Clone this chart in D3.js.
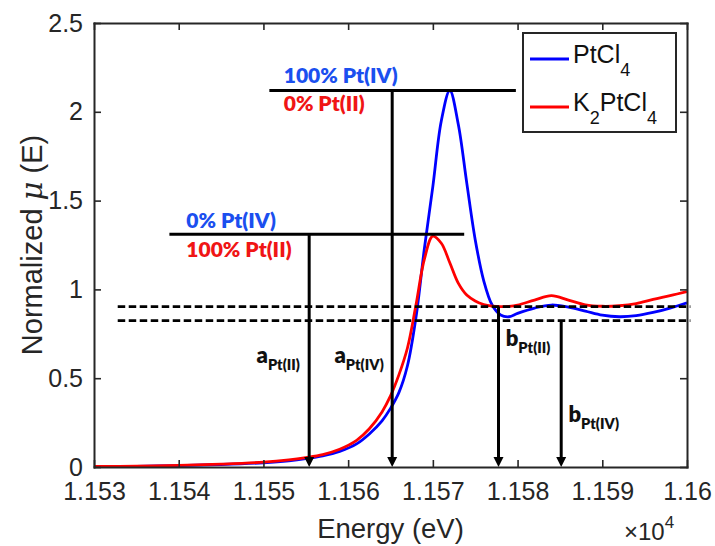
<!DOCTYPE html>
<html>
<head>
<meta charset="utf-8">
<script src="https://cdn.jsdelivr.net/npm/d3@7"></script>
<style>
  body { margin: 0; background: #fff; }
  svg { display: block; }
</style>
</head>
<body>
<svg id="chart" width="715" height="546"></svg>
<script>
// Pt L3-edge XANES, normalized absorption vs photon energy (eV)
const energy = [
  11530, 11535, 11540, 11545, 11550, 11553, 11555, 11557, 11559, 11561,
  11562.5, 11564, 11565, 11566, 11567, 11568, 11569, 11570, 11571, 11572,
  11573, 11574, 11575, 11576, 11577, 11578, 11579, 11580, 11582, 11584,
  11586, 11588, 11590, 11592, 11594, 11596, 11598, 11600
];
const muPtCl4 = [
  0.002, 0.004, 0.008, 0.014, 0.024, 0.035, 0.047, 0.063, 0.088, 0.13,
  0.186, 0.26, 0.33, 0.42, 0.57, 0.84, 1.23, 1.58, 1.95, 2.12,
  1.93, 1.60, 1.28, 1.05, 0.912, 0.856, 0.846, 0.865, 0.895, 0.912,
  0.90, 0.878, 0.855, 0.846, 0.852, 0.87, 0.895, 0.925
];
const muK2PtCl4 = [
  0.003, 0.005, 0.009, 0.016, 0.027, 0.040, 0.053, 0.070, 0.100, 0.150,
  0.215, 0.31, 0.40, 0.52, 0.67, 0.91, 1.17, 1.30, 1.26, 1.15,
  1.035, 0.968, 0.935, 0.915, 0.906, 0.903, 0.905, 0.912, 0.940, 0.965,
  0.94, 0.913, 0.905, 0.908, 0.92, 0.944, 0.965, 0.988
];
const seriesNames = ["PtCl4", "K2PtCl4"];
const xTicks = [11530, 11540, 11550, 11560, 11570, 11580, 11590, 11600];
const yTicks = [0, 0.5, 1, 1.5, 2, 2.5];

// white-line heights of the two references
const levelLines = [
  { mu: 2.12, e0: 11550.7, e1: 11579.8 },
  { mu: 1.31, e0: 11538.9, e1: 11573.7 }
];
const levelTexts = [
  { text: "100% Pt(IV)", e: 11552.4, mu: 2.162, kind: "iv" },
  { text: "0% Pt(II)",   e: 11552.4, mu: 2.005, kind: "ii" },
  { text: "0% Pt(IV)",   e: 11540.9, mu: 1.347, kind: "iv" },
  { text: "100% Pt(II)", e: 11540.9, mu: 1.183, kind: "ii" }
];
// post-edge reference levels
const dashedLevels = [0.903, 0.824];
const dashedRange = [11532.8, 11600.4];
// energy markers
const markers = [
  { e: 11555.4,  from: 1.31,  main: "a", sub: "Pt(II)", te: 11554.3, tmu: 0.586, side: "left" },
  { e: 11565.2,  from: 2.12,  main: "a", sub: "Pt(IV)", te: 11564.2, tmu: 0.586, side: "left" },
  { e: 11577.75, from: 0.903, main: "b", sub: "Pt(II)", te: 11578.6, tmu: 0.681, side: "right" },
  { e: 11585.15, from: 0.824, main: "b", sub: "Pt(IV)", te: 11586.0, tmu: 0.253, side: "right" }
];

const svg = d3.select("#chart");
const W = 715, H = 546;
const m = { left: 94, right: 28, top: 23, bottom: 79 };
const x = d3.scaleLinear().domain([11530, 11600]).range([m.left, W - m.right]);
const y = d3.scaleLinear().domain([0, 2.5]).range([H - m.bottom, m.top]);

const axisColor = "#262626";
const tickFont = "'Liberation Sans', Arial, Helvetica, sans-serif";
const noteFont = "Lato, 'Open Sans', sans-serif";
const blueText = "#1b4fef";
const redText = "#f01515";

svg.append("rect").attr("width", W).attr("height", H).attr("fill", "#fff");

svg.append("defs").append("clipPath").attr("id", "plotClip")
  .append("rect")
  .attr("x", m.left).attr("y", m.top)
  .attr("width", W - m.left - m.right).attr("height", H - m.top - m.bottom);

// curves
const line = d3.line()
  .x((d, i) => x(energy[i]))
  .y(d => y(d))
  .curve(d3.curveCatmullRom.alpha(0.5));

const curves = svg.append("g").attr("clip-path", "url(#plotClip)");
curves.append("path").datum(muPtCl4)
  .attr("d", line).attr("fill", "none")
  .attr("stroke", "#0000ff").attr("stroke-width", 2.8);
curves.append("path").datum(muK2PtCl4)
  .attr("d", line).attr("fill", "none")
  .attr("stroke", "#ff0000").attr("stroke-width", 2.8);

// dashed post-edge levels
svg.append("g").selectAll("line").data(dashedLevels).join("line")
  .attr("x1", x(dashedRange[0])).attr("x2", x(dashedRange[1]))
  .attr("y1", d => y(d)).attr("y2", d => y(d))
  .attr("stroke", "#000").attr("stroke-width", 2.6)
  .attr("stroke-dasharray", "7.5,3.5");

// white-line height guides
svg.append("g").selectAll("line").data(levelLines).join("line")
  .attr("x1", d => x(d.e0)).attr("x2", d => x(d.e1))
  .attr("y1", d => y(d.mu)).attr("y2", d => y(d.mu))
  .attr("stroke", "#000").attr("stroke-width", 3);

svg.append("g").selectAll("text").data(levelTexts).join("text")
  .attr("x", d => x(d.e)).attr("y", d => y(d.mu))
  .attr("font-family", noteFont).attr("font-weight", 800)
  .attr("font-size", 21)
  .attr("fill", d => d.kind === "iv" ? blueText : redText)
  .text(d => d.text);

// arrows down to the energy axis
const arrowG = svg.append("g");
const headH = 10, headW = 5;
arrowG.selectAll("line").data(markers).join("line")
  .attr("x1", d => x(d.e)).attr("x2", d => x(d.e))
  .attr("y1", d => y(d.from)).attr("y2", d => y(0) - headH + 1)
  .attr("stroke", "#000").attr("stroke-width", 3);
arrowG.selectAll("path").data(markers).join("path")
  .attr("d", d => {
    const cx = x(d.e), ty = y(0);
    return `M${cx - headW},${ty - headH}L${cx + headW},${ty - headH}L${cx},${ty}Z`;
  })
  .attr("fill", "#000");

const mLabels = svg.append("g").selectAll("text").data(markers).join("text")
  .attr("x", d => x(d.te)).attr("y", d => y(d.tmu))
  .attr("text-anchor", d => d.side === "left" ? "end" : "start")
  .attr("font-family", noteFont).attr("font-weight", 800)
  .attr("fill", "#111");
mLabels.append("tspan").attr("font-size", 22).text(d => d.main);
mLabels.append("tspan").attr("font-size", 14.5).attr("dy", 7).text(d => d.sub);

// axes (box with inward ticks)
function styleAxis(g) {
  g.selectAll("path.domain").attr("stroke", axisColor).attr("stroke-width", 2);
  g.selectAll(".tick line").attr("stroke", axisColor).attr("stroke-width", 1.6);
  g.selectAll(".tick text").attr("fill", axisColor)
    .attr("font-family", tickFont).attr("font-size", 25);
}
const fmtX = d => String(+(d / 1e4).toFixed(3));
svg.append("g").attr("transform", `translate(0,${y(0)})`)
  .call(d3.axisBottom(x).tickValues(xTicks).tickFormat(fmtX).tickSizeInner(-7).tickSizeOuter(0).tickPadding(15))
  .call(styleAxis);
svg.append("g").attr("transform", `translate(0,${y(2.5)})`)
  .call(d3.axisTop(x).tickValues(xTicks).tickFormat("").tickSizeInner(-7).tickSizeOuter(0))
  .call(styleAxis);
svg.append("g").attr("transform", `translate(${x(11530)},0)`)
  .call(d3.axisLeft(y).tickValues(yTicks).tickFormat(d3.format("~g")).tickSizeInner(-7).tickSizeOuter(0).tickPadding(11))
  .call(styleAxis);
svg.append("g").attr("transform", `translate(${x(11600)},0)`)
  .call(d3.axisRight(y).tickValues(yTicks).tickFormat("").tickSizeInner(-7).tickSizeOuter(0))
  .call(styleAxis);
svg.selectAll(".domain").attr("stroke-linecap", "square");

// axis titles
svg.append("text")
  .attr("x", (x(11530) + x(11600)) / 2).attr("y", 538)
  .attr("text-anchor", "middle")
  .attr("font-family", tickFont).attr("font-size", 27.5).attr("fill", axisColor)
  .text("Energy (eV)");

const yl = svg.append("text")
  .attr("transform", `translate(42,${(y(0) + y(2.5)) / 2}) rotate(-90)`)
  .attr("text-anchor", "middle")
  .attr("font-family", tickFont).attr("font-size", 29).attr("fill", axisColor);
yl.append("tspan").text("Normalized ");
yl.append("tspan").attr("font-family", "'DejaVu Serif', serif").attr("font-style", "italic").text("μ");
yl.append("tspan").text(" (E)");

const mult = svg.append("text")
  .attr("x", 624).attr("y", 540)
  .attr("font-family", tickFont).attr("font-size", 24).attr("fill", axisColor);
mult.append("tspan").text("×10");
mult.append("tspan").attr("font-size", 17).attr("dy", -12).text("4");

// legend
const lg = svg.append("g");
lg.append("rect")
  .attr("x", 523).attr("y", 33).attr("width", 153).attr("height", 99)
  .attr("fill", "#fff").attr("stroke", axisColor).attr("stroke-width", 2);
const legendItems = [
  { name: seriesNames[0], color: "#0000ff", parts: [["PtCl", 0], ["4", 1]] },
  { name: seriesNames[1], color: "#ff0000", parts: [["K", 0], ["2", 1], ["PtCl", 0], ["4", 1]] }
];
legendItems.forEach((it, i) => {
  const cy = 59 + i * 48;
  lg.append("line").attr("x1", 530).attr("x2", 569).attr("y1", cy).attr("y2", cy)
    .attr("stroke", it.color).attr("stroke-width", 2.8);
  const t = lg.append("text").attr("x", 573).attr("y", cy + 4)
    .attr("font-family", tickFont).attr("font-size", 25).attr("fill", "#111");
  let sub = false;
  it.parts.forEach(([s, isSub]) => {
    const ts = t.append("tspan").text(s);
    if (isSub && !sub) { ts.attr("font-size", 18).attr("dy", 13); sub = true; }
    else if (!isSub && sub) { ts.attr("dy", -13); sub = false; }
    else if (isSub) ts.attr("font-size", 18);
  });
});
</script>
</body>
</html>
